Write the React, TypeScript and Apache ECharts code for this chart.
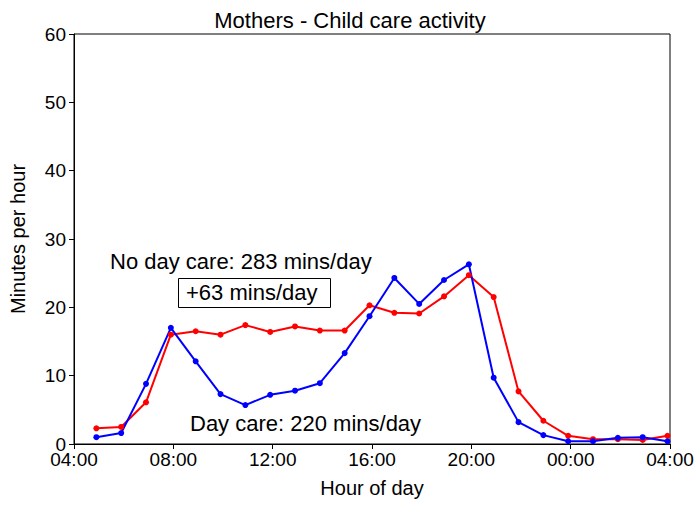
import React, { useEffect, useRef } from "react";
import * as echarts from "echarts";

const hours = [4.9,5.9,6.9,7.9,8.9,9.9,10.9,11.9,12.9,13.9,14.9,15.9,16.9,17.9,18.9,19.9,20.9,21.9,22.9,23.9,24.9,25.9,26.9,27.9];
const dayCare = [1.0,1.6,8.8,17.0,12.1,7.3,5.7,7.2,7.8,8.9,13.3,18.7,24.3,20.5,24.0,26.3,9.7,3.2,1.3,0.4,0.4,0.9,1.0,0.4];
const noDayCare = [2.3,2.5,6.1,16.0,16.5,16.0,17.4,16.4,17.2,16.6,16.6,20.3,19.2,19.1,21.6,24.7,21.5,7.7,3.4,1.2,0.7,0.7,0.6,1.2];
const xTicks = ["04:00","08:00","12:00","16:00","20:00","00:00","04:00"];

const F = "'Liberation Sans', Arial, sans-serif";

export default function App() {
  const ref = useRef<HTMLDivElement>(null);
  useEffect(() => {
    const chart = echarts.init(ref.current!, null, { renderer: "svg" });
    const ax = { lineStyle: { color: "#000" } };
    chart.setOption({
      animation: false,
      title: { text: "Mothers - Child care activity", left: "center", top: 4, textStyle: { fontFamily: F, fontWeight: "normal", fontSize: 22, color: "#000" } },
      grid: { left: 68, right: 30, top: 34, bottom: 67, show: true, borderColor: "#000", borderWidth: 1 },
      xAxis: {
        type: "value", min: 4, max: 28, interval: 4,
        name: "Hour of day", nameLocation: "middle", nameGap: 34,
        nameTextStyle: { fontFamily: F, fontSize: 20, color: "#000" },
        axisLine: ax, axisTick: { lineStyle: { color: "#000" }, length: 5 },
        splitLine: { show: false },
        axisLabel: { fontFamily: F, fontSize: 19, color: "#000", margin: 6, formatter: (v: number) => xTicks[Math.round((v - 4) / 4)] },
      },
      yAxis: {
        type: "value", min: 0, max: 60, interval: 10,
        name: "Minutes per hour", nameLocation: "middle", nameGap: 46,
        nameTextStyle: { fontFamily: F, fontSize: 20, color: "#000" },
        axisLine: { show: true, ...ax }, axisTick: { show: true, lineStyle: { color: "#000" }, length: 5 },
        splitLine: { show: false },
        axisLabel: { fontFamily: F, fontSize: 19, color: "#000" },
      },
      series: [
        { type: "line", data: hours.map((h, i) => [h, noDayCare[i]]), color: "#ff0000", symbol: "circle", symbolSize: 6, lineStyle: { width: 2 } },
        { type: "line", data: hours.map((h, i) => [h, dayCare[i]]), color: "#0000ff", symbol: "circle", symbolSize: 6, lineStyle: { width: 2 } },
      ],
      graphic: [
        { type: "text", left: 110, top: 250, style: { text: "No day care: 283 mins/day", font: `22px ${F}`, fill: "#000" } },
        { type: "rect", left: 178, top: 278, shape: { width: 152, height: 29 }, style: { fill: "#fff", stroke: "#000", lineWidth: 1 } },
        { type: "text", left: 186, top: 281, style: { text: "+63 mins/day", font: `22px ${F}`, fill: "#000" } },
        { type: "text", left: 190, top: 412, style: { text: "Day care: 220 mins/day", font: `22px ${F}`, fill: "#000" } },
      ],
    });
    return () => chart.dispose();
  }, []);
  return <div ref={ref} style={{ width: 700, height: 511, position: "absolute", left: 0, top: 0, background: "#fff" }} />;
}
